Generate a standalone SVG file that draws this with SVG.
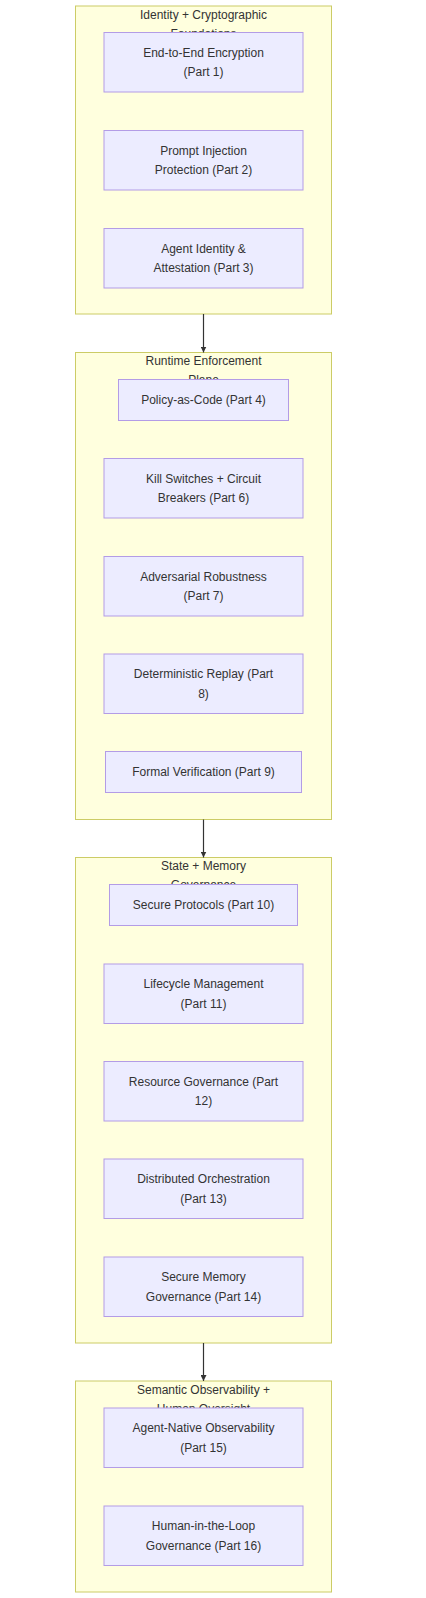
<svg xmlns="http://www.w3.org/2000/svg" width="426" height="1598" viewBox="0 0 426 1598">
<style>
.cl{fill:#ffffde;stroke:#cccc66;stroke-width:1}
.nd{fill:#ececff;stroke:#b39ce6;stroke-width:1}
text{font-family:"Liberation Sans",Arial,sans-serif;font-size:12px;fill:#333;text-anchor:middle}
.edge{stroke:#333;stroke-width:1.2;fill:none}
</style>
<defs>
<marker id="ah" viewBox="0 0 10 10" refX="10" refY="5" markerWidth="6" markerHeight="6" orient="auto" markerUnits="userSpaceOnUse">
<path d="M0,0 L10,5 L0,10 z" fill="#333"/>
</marker>
</defs>
<g id="cluster-identity">
<rect class="cl" x="75.5" y="6" width="256" height="308"/>
<text x="203.5" y="18.5">Identity + Cryptographic</text>
<text x="203.5" y="37.5">Foundations</text>
</g>
<g id="cluster-runtime">
<rect class="cl" x="75.5" y="352.5" width="256" height="467"/>
<text x="203.5" y="365">Runtime Enforcement</text>
<text x="203.5" y="384">Plane</text>
</g>
<g id="cluster-state">
<rect class="cl" x="75.5" y="857.5" width="256" height="485.5"/>
<text x="203.5" y="870">State + Memory</text>
<text x="203.5" y="889">Governance</text>
</g>
<g id="cluster-observability">
<rect class="cl" x="75.5" y="1381" width="256" height="211"/>
<text x="203.5" y="1393.5">Semantic Observability +</text>
<text x="203.5" y="1412.5">Human Oversight</text>
</g>
<g id="edges">
<line class="edge" x1="203.5" y1="314" x2="203.5" y2="352.5" marker-end="url(#ah)"/>
<line class="edge" x1="203.5" y1="819.5" x2="203.5" y2="857.5" marker-end="url(#ah)"/>
<line class="edge" x1="203.5" y1="1343" x2="203.5" y2="1381" marker-end="url(#ah)"/>
</g>
<g id="p1"><rect class="nd" x="104" y="32.5" width="199" height="59.5"/><text x="203.5" y="56.5">End-to-End Encryption</text><text x="203.5" y="76">(Part 1)</text></g>
<g id="p2"><rect class="nd" x="104" y="130.5" width="199" height="59.5"/><text x="203.5" y="154.5">Prompt Injection</text><text x="203.5" y="174">Protection (Part 2)</text></g>
<g id="p3"><rect class="nd" x="104" y="228.5" width="199" height="59.5"/><text x="203.5" y="252.5">Agent Identity &amp;</text><text x="203.5" y="272">Attestation (Part 3)</text></g>
<g id="p4"><rect class="nd" x="118.5" y="379.5" width="170" height="41"/><text x="203.5" y="404">Policy-as-Code (Part 4)</text></g>
<g id="p6"><rect class="nd" x="104" y="458.5" width="199" height="59.5"/><text x="203.5" y="482.5">Kill Switches + Circuit</text><text x="203.5" y="502">Breakers (Part 6)</text></g>
<g id="p7"><rect class="nd" x="104" y="556.5" width="199" height="59.5"/><text x="203.5" y="580.5">Adversarial Robustness</text><text x="203.5" y="600">(Part 7)</text></g>
<g id="p8"><rect class="nd" x="104" y="654" width="199" height="59.5"/><text x="203.5" y="678">Deterministic Replay (Part</text><text x="203.5" y="697.5">8)</text></g>
<g id="p9"><rect class="nd" x="105.5" y="751.5" width="196" height="41"/><text x="203.5" y="776">Formal Verification (Part 9)</text></g>
<g id="p10"><rect class="nd" x="109.5" y="884.5" width="188" height="41"/><text x="203.5" y="909">Secure Protocols (Part 10)</text></g>
<g id="p11"><rect class="nd" x="104" y="964" width="199" height="59.5"/><text x="203.5" y="988">Lifecycle Management</text><text x="203.5" y="1007.5">(Part 11)</text></g>
<g id="p12"><rect class="nd" x="104" y="1061.5" width="199" height="59.5"/><text x="203.5" y="1085.5">Resource Governance (Part</text><text x="203.5" y="1105">12)</text></g>
<g id="p13"><rect class="nd" x="104" y="1159" width="199" height="59.5"/><text x="203.5" y="1183">Distributed Orchestration</text><text x="203.5" y="1202.5">(Part 13)</text></g>
<g id="p14"><rect class="nd" x="104" y="1257" width="199" height="59.5"/><text x="203.5" y="1281">Secure Memory</text><text x="203.5" y="1300.5">Governance (Part 14)</text></g>
<g id="p15"><rect class="nd" x="104" y="1408" width="199" height="59.5"/><text x="203.5" y="1432">Agent-Native Observability</text><text x="203.5" y="1451.5">(Part 15)</text></g>
<g id="p16"><rect class="nd" x="104" y="1506" width="199" height="59.5"/><text x="203.5" y="1530">Human-in-the-Loop</text><text x="203.5" y="1549.5">Governance (Part 16)</text></g>
</svg>
